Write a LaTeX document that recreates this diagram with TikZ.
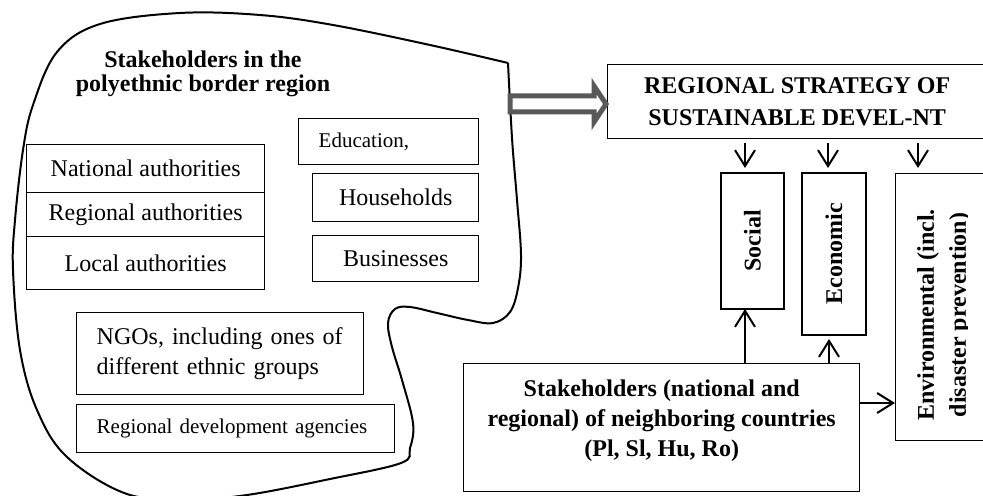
\documentclass[tikz,border=0pt]{standalone}
\usepackage{fontspec}
\setmainfont{Liberation Serif}
\usetikzlibrary{arrows.meta}

\begin{document}
\begin{tikzpicture}[x=0.5pt,y=-0.5pt,
	box/.style={draw,line width=0.7pt,inner sep=0pt,anchor=north west,align=center,font=\fontsize{12}{15}\selectfont},
	leftbox/.style={box,align=left,inner xsep=10pt},
	vbox/.style={draw,line width=0.7pt,inner sep=0pt,rotate=90,align=center,font=\bfseries\fontsize{12}{16}\selectfont},
	arr/.style={line width=1pt,-{Straight Barb[length=8pt,width=10pt,line width=1pt]}},
	hollow/.style={draw=black!65,line width=2.5pt,fill=white,line join=miter}]
		\clip (0,0) rectangle (983,496);
		% border region
		\draw[line width=1pt] plot[smooth,tension=0.6] coordinates {(508,63) (512,138) (517,200) (521,255) (518,288) (510,312) (493,323) (468,320) (437,313) (410,307) (395,309) (388,323) (392,347) (402,380) (413,423) (410,448) (401,463) (330,479) (247,495) (190,499) (127,494) (67,457) (37,410) (20,350) (13,270) (15,220) (23,150) (33,105) (57,52) (100,24) (180,13) (260,15) (333,25) (430,45) (508,63)};
		\node[font=\bfseries\fontsize{12}{12}\selectfont,align=center,inner sep=0pt] (title) at (203,74) {Stakeholders in the\\polyethnic border region};
		\node[box,minimum width=119pt,minimum height=24pt] (nat) at (26,144) {National authorities};
		\node[box,minimum width=119pt,minimum height=22pt] (reg) at (26,192) {Regional authorities};
		\node[box,minimum width=119pt,minimum height=26.5pt] (loc) at (26,236) {Local authorities};
		\node[leftbox,text width=70pt,minimum height=23pt,font=\fontsize{10.5}{13}\selectfont] (edu) at (298,118) {Education,};
		\node[box,minimum width=83pt,minimum height=24pt] (house) at (312,173) {Households};
		\node[box,minimum width=83pt,minimum height=23pt] (busi) at (312,235) {Businesses};
		\node[leftbox,text width=123.5pt,minimum height=41pt] (ngo) at (76,312) {NGOs, including ones of\\different ethnic groups};
		\node[leftbox,text width=139pt,minimum height=24pt,font=\fontsize{10.5}{13}\selectfont] (rda) at (76,404) {Regional development agencies};
		% strategy and its parts
		\node[box,font=\bfseries\fontsize{12}{16}\selectfont,minimum width=189.5pt,minimum height=37pt] (strategy) at (607,64) {REGIONAL STRATEGY OF\\SUSTAINABLE DEVEL-NT};
		\coordinate (blobtip) at (510,104);
		\coordinate (hollowtip) at (606,104);
		\draw[hollow] (blobtip) ++(0,-8) -- ++(84,0) -- ++(0,-10) -- (hollowtip) -- ++(-12,18) -- ++(0,-10) -- ++(-84,0) -- cycle;
		\node[vbox,minimum width=68pt,minimum height=31.5pt] (social) at (752.5,241) {Social};
		\node[vbox,minimum width=81pt,minimum height=32pt] (econ) at (834,254) {Economic};
		\node[draw,line width=0.7pt,anchor=north west,minimum width=60pt,minimum height=133.5pt,inner sep=0pt] (env) at (895,173) {};
		\begin{scope}
			\clip (880,160) rectangle (967,450);
			\node[rotate=90,align=center,inner sep=0pt,font=\bfseries\fontsize{12}{16}\selectfont] (envtext) at (944,315) {Environmental (incl.\\disaster prevention)};
		\end{scope}
		\node[box,font=\bfseries\fontsize{12}{15}\selectfont,minimum width=198pt,minimum height=64pt,text depth=10pt] (stake) at (463,363) {Stakeholders (national and\\regional) of neighboring countries\\(Pl, Sl, Hu, Ro)};
		% arrows
		\foreach \x/\n in {745/s,828/e,918/v}
			{
				\coordinate (top-\n) at (\x,168);
				\draw[arr,shorten <=2pt] (strategy.south -| top-\n) -- (top-\n);
			}
		\coordinate (bot-s) at (745,309);
		\coordinate (bot-e) at (829,339);
		\coordinate (env-in) at (895,403);
		\draw[arr] (stake.north -| bot-s) -- (bot-s);
		\draw[arr] (stake.north -| bot-e) -- (bot-e);
		\draw[arr] (stake.east |- env-in) -- (env-in);
	\end{tikzpicture}
\end{document}
